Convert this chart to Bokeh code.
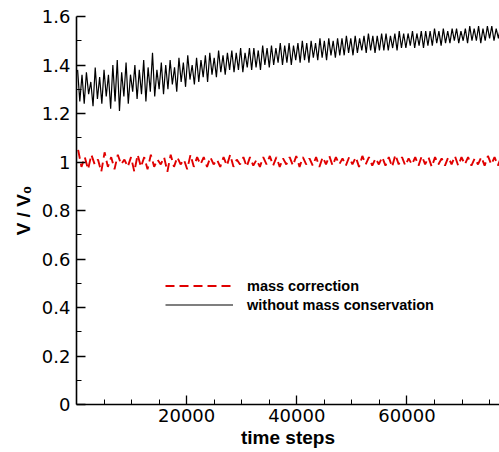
from bokeh.plotting import figure
from bokeh.models import Range1d, FixedTicker, Legend, LegendItem
from bokeh.embed import file_html
from bokeh.resources import INLINE

# ---- data ----
# black curve: peak / trough values of each oscillation (period ~800 steps)
black_peaks = [1.38, 1.36, 1.37, 1.33, 1.39, 1.35, 1.38, 1.36, 1.40, 1.42,
               1.37, 1.41, 1.36, 1.40, 1.38, 1.42, 1.39, 1.45, 1.38, 1.41,
               1.40, 1.42, 1.39, 1.43, 1.41, 1.44, 1.40, 1.43, 1.42, 1.44,
               1.45, 1.43, 1.46, 1.44, 1.45, 1.46, 1.45, 1.47, 1.45, 1.47,
               1.47, 1.46, 1.48, 1.47, 1.48, 1.47, 1.49, 1.48, 1.49, 1.48,
               1.49, 1.50, 1.49, 1.50, 1.49, 1.51, 1.50, 1.51, 1.50, 1.51,
               1.51, 1.52, 1.51, 1.52, 1.51, 1.52, 1.53, 1.52, 1.52, 1.53,
               1.53, 1.52, 1.53, 1.54, 1.53, 1.53, 1.54, 1.53, 1.54, 1.54,
               1.54, 1.55, 1.54, 1.55, 1.54, 1.55, 1.55, 1.54, 1.55, 1.56,
               1.55, 1.56, 1.55, 1.56, 1.56, 1.55, 1.56]
black_troughs = [1.25, 1.24, 1.28, 1.23, 1.26, 1.24, 1.27, 1.22, 1.25, 1.21,
                 1.27, 1.24, 1.29, 1.26, 1.28, 1.25, 1.29, 1.27, 1.30, 1.28,
                 1.30, 1.32, 1.29, 1.33, 1.31, 1.34, 1.32, 1.33, 1.35, 1.33,
                 1.36, 1.35, 1.37, 1.36, 1.38, 1.37, 1.38, 1.37, 1.39, 1.38,
                 1.39, 1.38, 1.40, 1.39, 1.40, 1.41, 1.40, 1.41, 1.40, 1.42,
                 1.41, 1.42, 1.41, 1.43, 1.42, 1.43, 1.42, 1.44, 1.43, 1.44,
                 1.44, 1.45, 1.44, 1.45, 1.46, 1.45, 1.46, 1.45, 1.46, 1.46,
                 1.46, 1.47, 1.46, 1.47, 1.47, 1.48, 1.47, 1.48, 1.47, 1.48,
                 1.48, 1.49, 1.48, 1.49, 1.49, 1.50, 1.49, 1.50, 1.49, 1.50,
                 1.50, 1.49, 1.50, 1.51, 1.50, 1.51, 1.50]
black_period = 800

# red curve: peak / trough values (period ~1200 steps)
red_peaks = [1.05, 1.02, 1.03, 1.01, 1.04, 1.02, 1.03, 1.01, 1.02, 1.03,
             1.02, 1.03, 1.01, 1.02, 1.03, 1.02, 1.01, 1.03, 1.02, 1.02,
             1.02, 1.01, 1.02, 1.03, 1.01, 1.02, 1.02, 1.01, 1.02, 1.025,
             1.02, 1.015, 1.02, 1.025, 1.02, 1.015, 1.02, 1.02, 1.025, 1.02,
             1.015, 1.02, 1.02, 1.025, 1.02, 1.015, 1.02, 1.02, 1.03, 1.02,
             1.015, 1.02, 1.025, 1.02, 1.02, 1.015, 1.02, 1.025, 1.02, 1.02,
             1.015, 1.02, 1.025, 1.02, 1.02]
red_troughs = [0.98, 0.97, 0.99, 0.96, 0.98, 0.97, 0.99, 0.98, 0.96, 0.98,
               0.97, 0.98, 0.99, 0.96, 0.98, 0.99, 0.97, 0.98, 0.99, 0.98,
               0.99, 0.98, 0.985, 0.98, 0.99, 0.98, 0.985, 0.98, 0.99, 0.985,
               0.98, 0.99, 0.985, 0.98, 0.99, 0.985, 0.98, 0.99, 0.985, 0.99,
               0.985, 0.99, 0.98, 0.99, 0.985, 0.99, 0.985, 0.98, 0.99, 0.985,
               0.99, 0.985, 0.99, 0.98, 0.99, 0.985, 0.99, 0.985, 0.99, 0.985,
               0.99, 0.985, 0.99, 0.985, 0.99]
red_period = 1200

x_ticks = [20000, 40000, 60000]
x_minor = [5000, 10000, 15000, 25000, 30000, 35000, 45000, 50000, 55000, 65000, 70000, 75000]
y_ticks = [0, 0.2, 0.4, 0.6, 0.8, 1.0, 1.2, 1.4, 1.6]
y_labels = ["0", "0.2", "0.4", "0.6", "0.8", "1", "1.2", "1.4", "1.6"]
y_minor = [0.1, 0.3, 0.5, 0.7, 0.9, 1.1, 1.3, 1.5]


def zigzag(peaks, troughs, period):
    xs, ys = [], []
    for k, (hi, lo) in enumerate(zip(peaks, troughs)):
        xs += [k * period + period * 0.25, k * period + period * 0.75]
        ys += [hi, lo]
    return xs, ys


bx, by = zigzag(black_peaks, black_troughs, black_period)
rx, ry = zigzag(red_peaks, red_troughs, red_period)

p = figure(width=499, height=452, x_range=Range1d(0, 76800), y_range=Range1d(0, 1.6),
           output_backend="svg", toolbar_location=None,
           min_border_left=76, min_border_right=0, min_border_top=16, min_border_bottom=48)
p.outline_line_color = None
p.grid.visible = False
p.background_fill_color = "white"
p.border_fill_color = "white"

r_black = p.line(bx, by, line_color="black", line_width=1.2)
r_red = p.line(rx, ry, line_color="#e00000", line_width=1.9, line_dash="9 5")

tick_font = "DejaVu Sans"
for ax in (p.xaxis[0], p.yaxis[0]):
    ax.axis_line_color = "black"
    ax.axis_line_width = 1.6
    ax.major_tick_in = 9
    ax.major_tick_out = 0
    ax.minor_tick_in = 5
    ax.minor_tick_out = 0
    ax.major_tick_line_width = 1.3
    ax.minor_tick_line_width = 1.0
    ax.major_tick_line_color = "black"
    ax.minor_tick_line_color = "black"
    ax.major_label_text_font = tick_font
    ax.major_label_text_font_size = "18px"
    ax.major_label_text_color = "black"
    ax.axis_label_text_font = "Liberation Sans"
    ax.axis_label_text_font_style = "bold"
    ax.axis_label_text_font_size = "19px"
    ax.axis_label_text_color = "black"

p.xaxis.ticker = FixedTicker(ticks=x_ticks, minor_ticks=x_minor)
p.yaxis.ticker = FixedTicker(ticks=y_ticks, minor_ticks=y_minor)
p.yaxis.major_label_overrides = {t: l for t, l in zip(y_ticks, y_labels)}
p.xaxis.axis_label = "time steps"
p.yaxis.axis_label = "V / V\u2080"
p.xaxis.major_label_standoff = 4
p.xaxis.axis_label_standoff = 2
p.yaxis.major_label_standoff = 6
p.yaxis.axis_label_standoff = 5

legend = Legend(items=[LegendItem(label="mass correction", renderers=[r_red]),
                       LegendItem(label="without mass conservation", renderers=[r_black])],
                location=(89, 90))
legend.border_line_color = None
legend.background_fill_alpha = 0
legend.padding = 0
legend.margin = 0
legend.spacing = 0
legend.glyph_width = 68
legend.glyph_height = 19
legend.label_height = 19
legend.label_standoff = 14
legend.label_text_font = "Liberation Sans"
legend.label_text_font_style = "bold"
legend.label_text_font_size = "14.5px"
legend.label_text_color = "black"
p.add_layout(legend)

open("out.html", "w").write(file_html(p, INLINE))
